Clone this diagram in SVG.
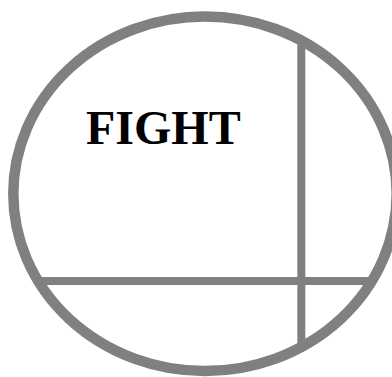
<svg xmlns="http://www.w3.org/2000/svg" width="392" height="377" viewBox="0 0 392 377">
<style>
.ln{stroke:#808080;fill:none}
.lbl{font-family:"Liberation Serif","Times New Roman",serif;font-weight:bold;font-size:48px;fill:#000}
</style>
<rect width="392" height="377" fill="#fff"/>
<g id="connectors">
<line class="ln" x1="301.3" y1="40" x2="301.3" y2="347" stroke-width="8"/>
<line class="ln" x1="38" y1="281" x2="372" y2="281" stroke-width="8"/>
</g>
<g id="boundary">
<ellipse class="ln" cx="205" cy="193.8" rx="191.7" ry="177.2" stroke-width="10.5"/>
</g>
<g id="label">
<text class="lbl" x="86" y="144">FIGHT</text>
</g>
</svg>
